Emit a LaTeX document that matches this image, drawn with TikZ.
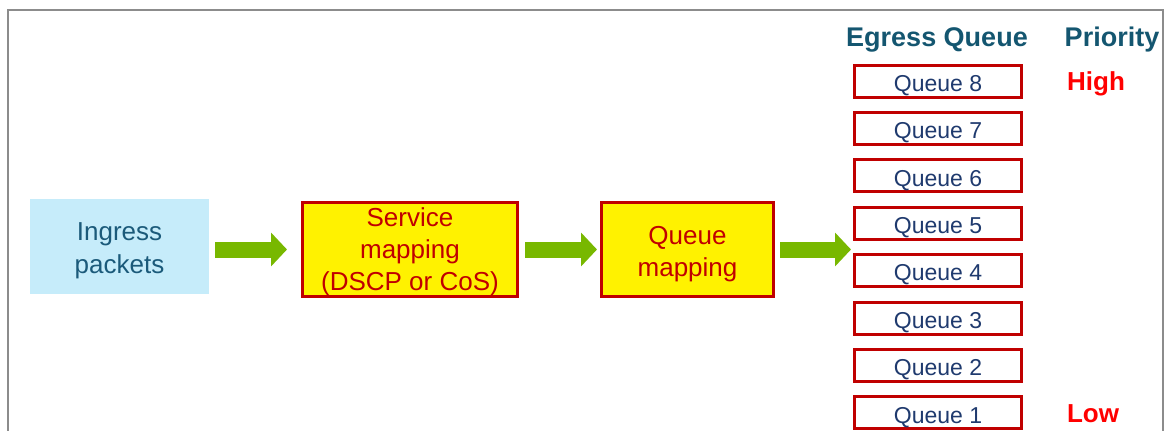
\documentclass[tikz,border=0pt]{standalone}
\usepackage{fontspec}
\setmainfont{Liberation Sans}
\usetikzlibrary{arrows.meta,positioning}

\definecolor{frameGray}{HTML}{8C8C8C}
\definecolor{ingressBlue}{HTML}{C6ECFA}
\definecolor{ingressText}{HTML}{1B5A7A}
\definecolor{boxRed}{HTML}{C00000}
\definecolor{queueText}{HTML}{1F3A6E}
\definecolor{headBlue}{HTML}{145670}
\definecolor{flowGreen}{HTML}{78B800}

\begin{document}
\begin{tikzpicture}[
  x=1pt,
  y=-1pt,
  stage/.style={rectangle, draw=boxRed, line width=3pt, fill=yellow, text=boxRed, align=center, inner ysep=0pt, font=\fontsize{26}{32}\selectfont},
  queuebox/.style={rectangle, draw=boxRed, line width=3pt, fill=white, text=queueText, minimum width=167pt, minimum height=32pt, inner sep=0pt, text height=22pt, text depth=1.5pt, font=\fontsize{23}{27}\selectfont},
  header/.style={text=headBlue, font=\fontsize{27}{32}\selectfont\bfseries},
  prio/.style={text=red, font=\fontsize{26}{32}\selectfont\bfseries},
  flow/.style={-{Triangle[length=16pt,width=33pt]}, line width=16pt, draw=flowGreen},
]
\useasboundingbox (0,0) rectangle (1168,431);

% outer frame
\draw[frameGray, line width=2pt] (8,440) |- (1163,10) -- (1163,440);

\node[rectangle, fill=ingressBlue, text=ingressText, minimum width=179pt, minimum height=95pt, align=center, text height=60pt, font=\fontsize{26}{33}\selectfont] (ingress) at (119.5,246.5) {Ingress\\packets};
\node[stage, minimum width=215pt, minimum height=94pt, text height=88pt] (service) at (410,249.5) {Service\\mapping\\(DSCP or CoS)};
\node[stage, minimum width=172pt, minimum height=94pt, text height=59pt] (qmap) at (687.5,249.5) {Queue\\mapping};

\node[header] (egress) at (937,40) {Egress Queue};
\node[header] (priority) at (1112,40) {Priority};

\foreach \i in {1,...,8}
  \node[queuebox] (q\i) at (938,{81+(8-\i)*47.4}) {Queue \i};

\node[prio] (high) at (1096,84) {High};
\node[prio] (low) at (1093,414) {Low};

\draw[flow, shorten <=6pt, shorten >=14pt] (ingress.east |- service.west) -- (service.west);
\draw[flow, shorten <=6pt, shorten >=3pt] (service) -- (qmap);
\draw[flow, shorten <=5pt, shorten >=2pt] (qmap.east) -- (q5.west |- qmap.east);

\end{tikzpicture}
\end{document}
